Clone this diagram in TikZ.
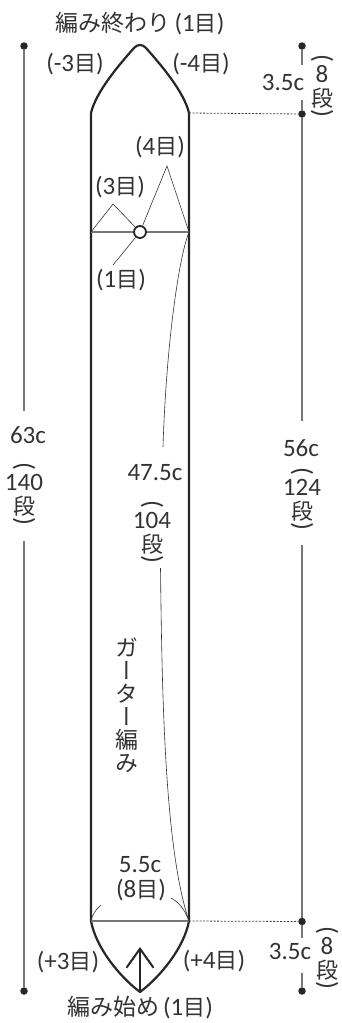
\documentclass[tikz,border=0pt]{standalone}
\usepackage{fontspec}
\usepackage{graphicx}
\setmainfont{Carlito}
\newfontfamily\jpfont{Noto Sans CJK JP}
\newfontfamily\jpvert[RawFeature={+vert}]{Noto Sans CJK JP}
\usetikzlibrary{arrows.meta}
\definecolor{inkgray}{HTML}{333333}
\definecolor{linegray}{HTML}{777777}
\newcommand{\me}{{\jpfont\fontsize{22}{22}\selectfont 目}}
\newcommand{\dan}{{\jpfont\fontsize{22}{22}\selectfont 段}}
\newcommand{\jp}[1]{{\jpfont\fontsize{23}{23}\selectfont #1}}
\newcommand{\arcup}{\rotatebox[origin=c]{-90}{\fontsize{26}{26}\selectfont (}}
\newcommand{\arcdn}{\rotatebox[origin=c]{-90}{\fontsize{26}{26}\selectfont )}}
\newcommand{\tatecount}[1]{\leavevmode\smash{\makebox[0pt]{\raisebox{26pt}{\arcup}}\makebox[0pt]{\raisebox{10.5pt}{#1}}\makebox[0pt]{\raisebox{-14pt}{\dan}}\makebox[0pt]{\raisebox{-28.5pt}{\arcdn}}}}
\begin{document}
\begin{tikzpicture}[x=1pt,y=-1pt,
			lbl/.style={inner sep=0pt, text=inkgray, align=center, font=\fontsize{25}{27}\selectfont},
			tatelbl/.style={lbl, font=\fontsize{25}{21}\selectfont},
			dot/.style={circle, fill=black!85, inner sep=0pt, minimum size=7.5pt},
			dimline/.style={draw=linegray, line width=1.1pt},
			body/.style={draw=black!85, line width=2.2pt, line join=round},
			thinline/.style={draw=black!80, line width=0.6pt},
			guide/.style={draw=black!75, line width=0.8pt, dash pattern=on 2pt off 1.5pt}]
			\useasboundingbox (0,0) rectangle (342,1023);
			% body outline
			\coordinate (topapex) at (140,44);
			\coordinate (botapex) at (140,992);
			\coordinate (shTL) at (91,113);
			\coordinate (shTR) at (189,113);
			\coordinate (shBL) at (91,921);
			\coordinate (shBR) at (189,921);
			\draw[body] (shTL) .. controls (96,92) and (118,66) .. (134,48)
				.. controls (137,44) and (143,44) .. (146,48)
				.. controls (162,66) and (184,92) .. (shTR)
				-- (shBR) .. controls (184,948) and (160,977) .. (botapex)
				.. controls (120,977) and (96,948) .. (shBL) -- cycle;
			% cross lines
			\coordinate (midL) at (91,232);
			\coordinate (midR) at (189,232);
			\draw[dimline] (midL) -- (midR);
			\draw[dimline] (shBL) -- (shBR);
			\node[circle, draw=black!85, line width=1.8pt, fill=white, minimum size=12pt, inner sep=0pt] (ring) at (140,232) {};
			% decrease triangles
			\coordinate (peakA) at (113,204);
			\coordinate (peakB) at (167,166);
			\coordinate (leadA) at (113,265);
			\draw[thinline] (midL) -- (peakA) -- (ring);
			\draw[thinline] (ring) -- (peakB) -- (midR);
			\draw[thinline] (ring) -- (leadA);
			% arrow
			\coordinate (arrowtop) at (140,947);
			\draw[draw=black!85, line width=2pt, -{Straight Barb[length=19pt, width=27pt, line width=2pt]}] (botapex) -- (arrowtop);
			% length leader inside
			\coordinate (leadB) at (163,447);
			\coordinate (leadC) at (160.5,568);
			\draw[thinline] (midR) .. controls (178,260) and (166,350) .. (leadB);
			\draw[thinline] (leadC) .. controls (162,700) and (165,850) .. (shBR);
			\coordinate (tickL) at (101,905);
			\coordinate (tickR) at (171,898);
			\draw[thinline] (shBL) .. controls (92,915) and (96,909) .. (tickL);
			\draw[thinline] (tickR) .. controls (179,902) and (185,910) .. (shBR);
			% left dim
			\node[dot] (dotLT) at (24,46) {};
			\node[dot] (dotLB) at (24,991) {};
			\coordinate (gapLa) at (24,411);
			\coordinate (gapLb) at (24,541);
			\draw[dimline] (dotLT) -- (gapLa);
			\draw[dimline] (gapLb) -- (dotLB);
			% right dim
			\node[dot] (dotRa) at (302,46) {};
			\node[dot] (dotRb) at (302,114) {};
			\node[dot] (dotRc) at (302,921.5) {};
			\node[dot] (dotRd) at (302,991) {};
			\coordinate (gapRa) at (302,65);
			\coordinate (gapRb) at (302,100);
			\coordinate (gapRc) at (302,421);
			\coordinate (gapRd) at (302,545);
			\coordinate (gapRe) at (302,938);
			\coordinate (gapRf) at (302,973);
			\draw[dimline] (dotRa) -- (gapRa);
			\draw[dimline] (gapRb) -- (dotRb);
			\draw[dimline] (dotRb) -- (gapRc);
			\draw[dimline] (gapRd) -- (dotRc);
			\draw[dimline] (dotRc) -- (gapRe);
			\draw[dimline] (gapRf) -- (dotRd);
			\draw[guide] (shTR) -- (dotRb);
			\draw[guide] (shBR) -- (dotRc);
			% labels
			\node[lbl] (endlbl) at (140,24) {\jp{編み終わり}\,(1\me)};
			\node[lbl] (minA) at (75,64) {(-3\me)};
			\node[lbl] (minB) at (201,64) {(-4\me)};
			\node[lbl] (cntD) at (160,147) {(4\me)};
			\node[lbl] (cntC) at (120,187) {(3\me)};
			\node[lbl] (cntA) at (121,280) {(1\me)};
			\node[lbl] (lenTop) at (283,82) {3.5c};
			\node[tatelbl] (rowTop) at (322,92.5) {\tatecount{8}};
			\node[lbl] (lenAll) at (28,435) {63c};
			\node[tatelbl] (rowAll) at (24,500.5) {\tatecount{140}};
			\node[lbl] (lenMid) at (301,448) {56c};
			\node[tatelbl] (rowMid) at (302,505.5) {\tatecount{124}};
			\node[lbl] (lenIn) at (155,473) {47.5c};
			\node[tatelbl] (rowIn) at (152,538.5) {\tatecount{104}};
			\node[lbl, font=\jpvert\fontsize{23}{23}\selectfont] (garter) at (127,705) {ガ\\ー\\タ\\ー\\編\\み};
			\node[lbl] (width) at (140,865) {5.5c};
			\node[lbl] (widthCnt) at (141,890) {(8\me)};
			\node[lbl] (incA) at (68,962) {(+3\me)};
			\node[lbl] (incB) at (214,961) {(+4\me)};
			\node[lbl] (lenBot) at (290,951) {3.5c};
			\node[tatelbl] (rowBot) at (327,964.5) {\tatecount{8}};
			\node[lbl] (startlbl) at (140,1008) {\jp{編み始め}\,(1\me)};
		\end{tikzpicture}
\end{document}
